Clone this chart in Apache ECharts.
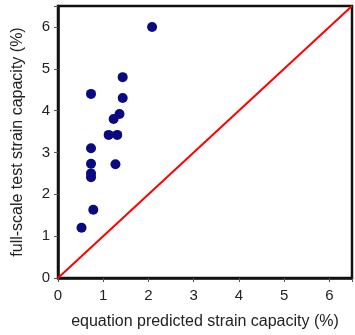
<!DOCTYPE html>
<html><head><meta charset="utf-8">
<script src="https://cdn.jsdelivr.net/npm/echarts@6/dist/echarts.min.js"></script>
<style>html,body{margin:0;padding:0;background:#fff}#c{width:355px;height:335px}</style>
</head><body><div id="c"></div>
<script>
const predicted = [2.08, 1.43, 0.73, 1.43, 1.36, 1.23, 1.12, 1.31, 0.73, 0.73, 1.27, 0.73, 0.73, 0.78, 0.52];
const measured  = [6.0, 4.8, 4.4, 4.3, 3.92, 3.8, 3.42, 3.42, 3.1, 2.73, 2.72, 2.5, 2.41, 1.63, 1.2];
const lineX = [0, 6.5];
const lineY = [0, 6.5];
const ticks = [0, 1, 2, 3, 4, 5, 6];

const chart = echarts.init(document.getElementById('c'));
const font = 'Liberation Sans, Arial, sans-serif';
chart.setOption({
  animation: false,
  grid: {left: 58, top: 6, right: -2, bottom: 57, show: true, borderColor: '#111', borderWidth: 2.5},
  xAxis: {
    type: 'value', min: 0, max: 6.5, interval: 1,
    name: 'equation predicted strain capacity (%)', nameLocation: 'middle', nameGap: 36,
    nameTextStyle: {fontFamily: font, fontSize: 16, color: '#222'},
    axisLine: {lineStyle: {color: '#111', width: 2.5}},
    axisTick: {length: 4, lineStyle: {color: '#555'}},
    axisLabel: {fontFamily: font, fontSize: 15, color: '#222', margin: 10,
      formatter: v => ticks.includes(v) ? String(v) : ''},
    splitLine: {show: false}
  },
  yAxis: {
    type: 'value', min: 0, max: 6.5, interval: 1,
    name: 'full-scale test strain capacity (%)', nameLocation: 'middle', nameGap: 32,
    nameTextStyle: {fontFamily: font, fontSize: 16, color: '#222'},
    axisLine: {lineStyle: {color: '#111', width: 2.5}},
    axisTick: {length: 4, lineStyle: {color: '#555'}},
    axisLabel: {fontFamily: font, fontSize: 15, color: '#222', margin: 8,
      formatter: v => ticks.includes(v) ? String(v) : ''},
    splitLine: {show: false}
  },
  series: [
    {type: 'line', data: lineX.map((x, i) => [x, lineY[i]]), symbol: 'none',
     lineStyle: {color: '#ff0000', width: 2}, z: 1},
    {type: 'scatter', data: predicted.map((x, i) => [x, measured[i]]), symbolSize: 10,
     itemStyle: {color: '#0a0a80', opacity: 1}, z: 2}
  ]
});
</script></body></html>
